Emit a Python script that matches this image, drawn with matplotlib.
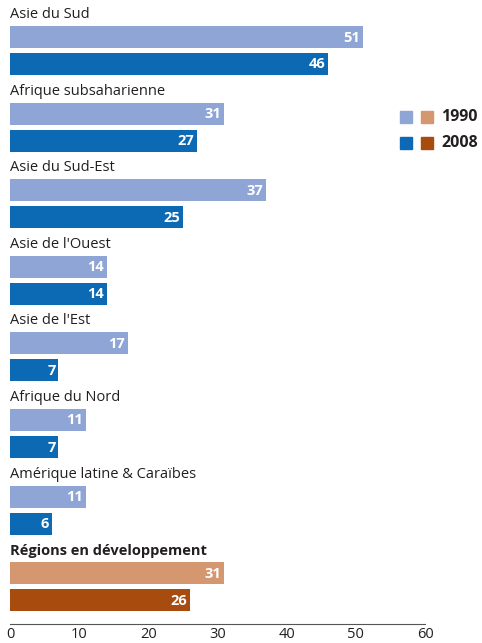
import matplotlib.pyplot as plt
import numpy as np

# donnees
regions = ['Asie du Sud', 'Afrique subsaharienne', 'Asie du Sud-Est', "Asie de l'Ouest",
           "Asie de l'Est", 'Afrique du Nord', 'Amérique latine & Caraïbes',
           'Régions en développement']
v1990 = [51, 31, 37, 14, 17, 11, 11, 31]
v2008 = [46, 27, 25, 14, 7, 7, 6, 26]

bleu_clair = '#8EA5D5'
bleu = '#0C69B3'
orange_clair = '#D4976F'
orange = '#A84B0F'
texte = '#231F20'

plt.rcParams['font.family'] = ['Open Sans', 'DejaVu Sans']

W, H = 482, 643
fig = plt.figure(figsize=(W/100, H/100), dpi=100)
y_axe = 624  # ligne de l'axe en px depuis le haut
ax = fig.add_axes([10/W, (H-y_axe)/H, 415/W, y_axe/H])
ax.set_xlim(0, 60)
ax.set_ylim(y_axe, 0)

pas = 76.6
h = 22
for i, reg in enumerate(regions):
    haut = 26 + pas*i
    c1 = bleu_clair if i < 7 else orange_clair
    c2 = bleu if i < 7 else orange
    y1 = haut + h/2
    y2 = haut + h + 5 + h/2
    ax.barh(y1, v1990[i], height=h, color=c1, linewidth=0)
    ax.barh(y2, v2008[i], height=h, color=c2, linewidth=0)
    ax.text(v1990[i]-0.4, y1+0.5, str(v1990[i]), ha='right', va='center',
            color='white', fontsize=10.5, fontweight='bold')
    ax.text(v2008[i]-0.4, y2+0.5, str(v2008[i]), ha='right', va='center',
            color='white', fontsize=10.5, fontweight='bold')
    ax.text(0, haut-4, reg, ha='left', va='bottom', color=texte, fontsize=10.5,
            fontweight='bold' if i == 7 else 'normal')

for s in ['top', 'right', 'left']:
    ax.spines[s].set_visible(False)
ax.spines['bottom'].set_color('#555555')
ax.spines['bottom'].set_linewidth(0.8)
ax.set_yticks([])
ax.set_xticks(np.arange(0, 61, 10))
ax.tick_params(axis='x', length=0, labelsize=10.5, labelcolor=texte, pad=2)

# legende
for yl, ca, cb, lab in [(117, bleu_clair, orange_clair, '1990'), (143, bleu, orange, '2008')]:
    fig.patches.append(plt.Rectangle((400/W, 1-(yl+6)/H), 12/W, 12/H, color=ca,
                                     transform=fig.transFigure))
    fig.patches.append(plt.Rectangle((421/W, 1-(yl+6)/H), 12/W, 12/H, color=cb,
                                     transform=fig.transFigure))
    fig.text(441/W, 1-yl/H, lab, ha='left', va='center', fontsize=11.5,
             fontweight='bold', color=texte)

fig.savefig('out.png', dpi=100)
